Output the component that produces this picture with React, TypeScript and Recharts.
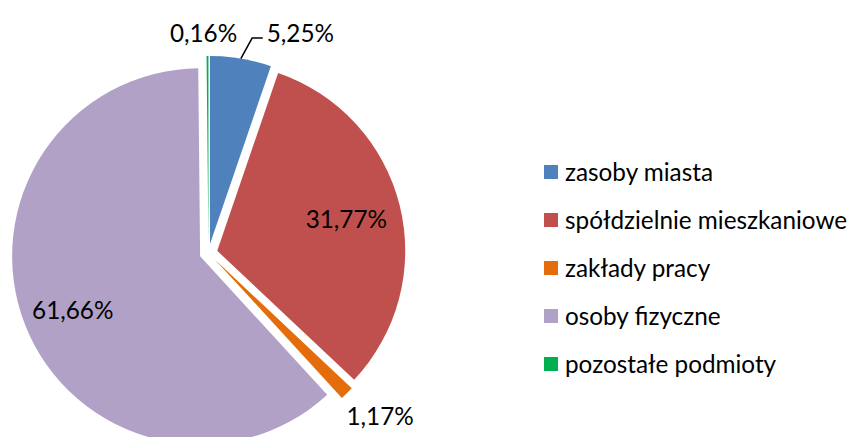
import React from 'react';
import { PieChart, Pie, Cell, Sector, Legend } from 'recharts';

const categories = ['zasoby miasta', 'spółdzielnie mieszkaniowe', 'zakłady pracy', 'osoby fizyczne', 'pozostałe podmioty'];
const shares = [5.25, 31.77, 1.17, 61.66, 0.16];
const colors = ['#4F81BD', '#C0504D', '#E46C0A', '#B2A1C7', '#00B050'];

// label placement: radius from pie centre, extra clockwise angle shift (deg), leader line flag
const labelPlacement = [
  { r: 239, shift: 13, leader: true },
  { r: 142, shift: 0, leader: false },
  { r: 236, shift: -2, leader: false },
  { r: 147, shift: -1, leader: false },
  { r: 221, shift: -1, leader: false },
];

const data = categories.map((name, i) => ({ name, value: shares[i] }));

const EXPLODE = 9;
const RAD = Math.PI / 180;
const FONT = 'Lato, "Open Sans", sans-serif';
const FONT_SIZE = 24.3;

const fmt = (v: number) => v.toFixed(2).replace('.', ',') + '%';

const ExplodedSector = (props: any) => {
  const { cx, cy, midAngle } = props;
  const dx = EXPLODE * Math.cos(-midAngle * RAD);
  const dy = EXPLODE * Math.sin(-midAngle * RAD);
  return <Sector {...props} cx={cx + dx} cy={cy + dy} stroke="none" />;
};

const renderLabel = (props: any) => {
  const { cx, cy, midAngle, outerRadius, index, value } = props;
  const p = labelPlacement[index];
  const ang = midAngle - p.shift;
  const x = cx + p.r * Math.cos(-ang * RAD);
  const y = cy + p.r * Math.sin(-ang * RAD);
  const text = fmt(value);
  if (p.leader) {
    const r0 = outerRadius + EXPLODE;
    const sx = cx + r0 * Math.cos(-midAngle * RAD);
    const sy = cy + r0 * Math.sin(-midAngle * RAD);
    const ey = y + 6;
    const ex = sx + (sy - ey) * 0.55;
    const tx = x - 33;
    return (
      <g>
        <polyline points={`${sx},${sy} ${ex},${ey} ${tx - 4},${ey}`} fill="none" stroke="#000" strokeWidth={1.5} />
        <text x={tx} y={y} textAnchor="start" dominantBaseline="central" fill="#000" fontFamily={FONT} fontSize={FONT_SIZE}>{text}</text>
      </g>
    );
  }
  return (
    <text x={x} y={y} textAnchor="middle" dominantBaseline="central" fill="#000" fontFamily={FONT} fontSize={FONT_SIZE}>{text}</text>
  );
};

const renderLegend = () => (
  <div style={{ fontFamily: FONT, fontSize: FONT_SIZE, color: '#000' }}>
    {categories.map((c, i) => (
      <div key={c} style={{ display: 'flex', alignItems: 'center', height: 48 }}>
        <span style={{ display: 'inline-block', width: 14, height: 14, background: colors[i], marginRight: 7 }} />
        <span style={{ lineHeight: '48px', whiteSpace: 'nowrap' }}>{c}</span>
      </div>
    ))}
  </div>
);

export default function App() {
  return (
    <div style={{ position: 'absolute', left: 0, top: 0, width: 853, height: 437, background: '#fff', overflow: 'hidden' }}>
      <PieChart width={853} height={437} margin={{ top: 0, right: 0, bottom: 0, left: 0 }}>
        <Pie
          data={data}
          dataKey="value"
          nameKey="name"
          cx={208.5}
          cy={253}
          outerRadius={188}
          startAngle={90}
          endAngle={-270}
          stroke="none"
          shape={ExplodedSector}
          label={renderLabel}
          labelLine={false}
          isAnimationActive={false}
        >
          {data.map((d, i) => (
            <Cell key={d.name} fill={colors[i]} />
          ))}
        </Pie>
        <Legend
          layout="vertical"
          align="right"
          verticalAlign="top"
          content={renderLegend}
          wrapperStyle={{ left: 544, top: 148, width: 309 }}
        />
      </PieChart>
    </div>
  );
}
